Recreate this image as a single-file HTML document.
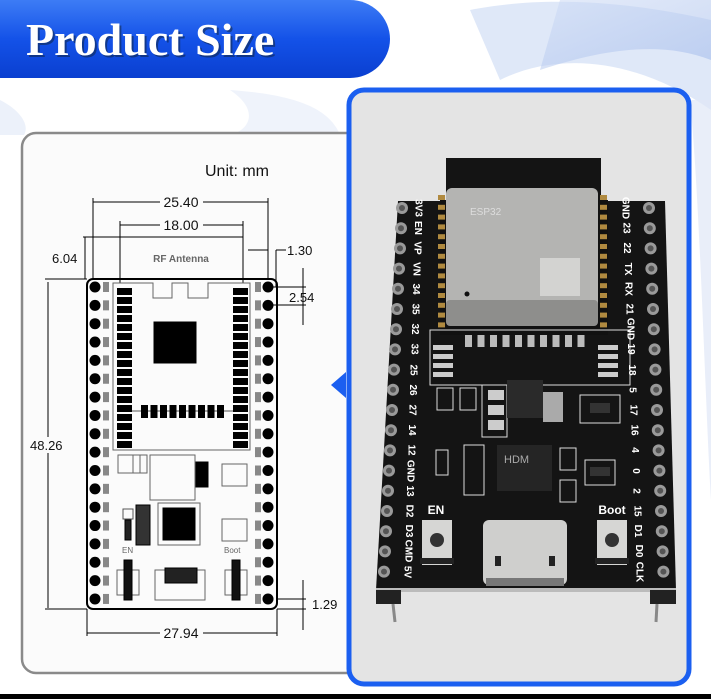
<!DOCTYPE html>
<html><head><meta charset="utf-8"><style>
html,body{margin:0;padding:0;background:#fff;}
svg{display:block;}
text{font-family:"Liberation Sans",sans-serif;}
</style></head><body>
<svg id="s" width="711" height="699" viewBox="0 0 711 699" xmlns="http://www.w3.org/2000/svg">
<defs>
<linearGradient id="bn" x1="0" y1="0" x2="0" y2="1">
<stop offset="0" stop-color="#3d7cf5"/><stop offset="0.5" stop-color="#1452e8"/><stop offset="1" stop-color="#0a3fd0"/>
</linearGradient>
<linearGradient id="wv" x1="0" y1="0" x2="1" y2="1">
<stop offset="0" stop-color="#cfdcf5"/><stop offset="1" stop-color="#9fb8ea"/>
</linearGradient>
</defs>
<rect width="711" height="699" fill="#fff"/>
<!-- background waves -->
<path d="M470 10 C520 0 600 -5 711 20 L711 110 C640 60 560 50 500 80 Z" fill="#d7e2f6" opacity="0.8"/>
<path d="M560 0 L711 0 L711 60 C660 40 600 50 540 70 Z" fill="url(#wv)" opacity="0.55"/>
<path d="M230 90 C260 110 250 130 230 135 L340 135 C330 110 300 95 230 90Z" fill="#dbe5f7" opacity="0.45"/>
<path d="M0 100 C20 110 30 125 24 135 L0 135Z" fill="#d5e0f5" opacity="0.45"/>
<path d="M690 100 C700 200 705 400 711 500 L711 100Z" fill="#dfe7f7" opacity="0.7"/>
<!-- banner -->
<path d="M0 0 H350 A40 39 0 0 1 350 78 H0 Z" fill="url(#bn)"/>
<text x="28" y="57" font-weight="bold" font-size="46" fill="#123" opacity="0.5" style="font-family:'Liberation Serif',serif">Product Size</text>
<text x="26" y="55" font-weight="bold" font-size="46" fill="#fff" style="font-family:'Liberation Serif',serif">Product Size</text>
<!-- left panel -->
<rect x="22" y="133" width="340" height="540" rx="14" fill="#fbfbfb" stroke="#8a8a8a" stroke-width="2.5"/>
<g id="draw" stroke="#000" fill="none" stroke-width="1">
<text x="205" y="176" font-size="16" fill="#111" stroke="none">Unit: mm</text>
<line x1="93" y1="202" x2="160" y2="202"/><line x1="203" y1="202" x2="268" y2="202"/>
<text x="181" y="207" font-size="14" fill="#111" stroke="none" text-anchor="middle">25.40</text>
<line x1="93" y1="198" x2="93" y2="280"/><line x1="268" y1="198" x2="268" y2="280"/>
<line x1="120" y1="225" x2="160" y2="225"/><line x1="203" y1="225" x2="243" y2="225"/>
<text x="181" y="230" font-size="14" fill="#111" stroke="none" text-anchor="middle">18.00</text>
<line x1="120" y1="221" x2="120" y2="283"/><line x1="243" y1="221" x2="243" y2="283"/>
<line x1="83" y1="237" x2="243" y2="237"/>
<text x="181" y="262" font-size="10" fill="#666" stroke="none" text-anchor="middle" font-weight="bold" style="font-family:'Liberation Sans Narrow','Liberation Sans',sans-serif">RF Antenna</text>
<line x1="85" y1="237" x2="85" y2="279"/>
<text x="52" y="263" font-size="13" fill="#111" stroke="none">6.04</text>
<line x1="248" y1="250" x2="268" y2="250"/><line x1="276" y1="250" x2="286" y2="250"/>
<line x1="276" y1="250" x2="276" y2="287"/>
<text x="287" y="255" font-size="13" fill="#111" stroke="none">1.30</text>
<line x1="303" y1="268" x2="303" y2="325"/>
<line x1="272" y1="287" x2="306" y2="287"/><line x1="272" y1="305" x2="306" y2="305"/>
<text x="289" y="302" font-size="13" fill="#111" stroke="none">2.54</text>
<line x1="48" y1="282" x2="48" y2="608"/><line x1="45" y1="279" x2="87" y2="279"/>
<line x1="45" y1="609" x2="87" y2="609"/>
<rect x="28" y="437" width="40" height="16" fill="#fbfbfb" stroke="none"/>
<text x="30" y="450" font-size="13" fill="#111" stroke="none">48.26</text>
<line x1="303" y1="580" x2="303" y2="630"/>
<line x1="277" y1="599" x2="306" y2="599"/><line x1="277" y1="609" x2="306" y2="609"/>
<text x="312" y="609" font-size="13" fill="#111" stroke="none">1.29</text>
<line x1="87" y1="609" x2="87" y2="636"/><line x1="277" y1="609" x2="277" y2="636"/>
<line x1="87" y1="633" x2="160" y2="633"/><line x1="203" y1="633" x2="277" y2="633"/>
<text x="181" y="638" font-size="14" fill="#111" stroke="none" text-anchor="middle">27.94</text>
<rect x="87" y="279" width="190" height="330" rx="6" stroke-width="2"/>
<path d="M113 450 V283 H153 V298 H172 V283 H188 V298 H208 V283 H250 V450 Z" stroke="#666"/>
<rect x="154" y="322" width="42" height="41" fill="#000"/>
<line x1="131" y1="411" x2="233" y2="411" stroke="#555"/>
<rect x="118" y="455" width="22" height="18" stroke="#666"/><rect x="133" y="455" width="14" height="18" stroke="#666"/>
<rect x="150" y="455" width="45" height="45" stroke="#666"/>
<rect x="196" y="462" width="12" height="25" fill="#000"/>
<rect x="222" y="464" width="25" height="22" stroke="#666"/>
<rect x="222" y="519" width="25" height="22" stroke="#666"/>
<rect x="163" y="508" width="32" height="32" fill="#000"/>
<rect x="158" y="503" width="42" height="42" stroke="#666"/>
<rect x="123" y="509" width="10" height="10" stroke="#555"/>
<rect x="125" y="520" width="6" height="20" fill="#222"/>
<rect x="136" y="505" width="14" height="40" fill="#333"/>
<rect x="117" y="570" width="22" height="25" stroke="#666"/>
<rect x="225" y="570" width="22" height="25" stroke="#666"/>
<rect x="124" y="560" width="8" height="40" fill="#111"/>
<rect x="232" y="560" width="8" height="40" fill="#111"/>
<rect x="155" y="570" width="50" height="30" stroke="#666"/>
<rect x="165" y="568" width="32" height="15" fill="#222"/>
<text x="122" y="553" font-size="8" fill="#666" stroke="none">EN</text>
<text x="224" y="553" font-size="8" fill="#666" stroke="none">Boot</text>
</g>
<g id="pins"></g>
<!-- right panel -->
<path d="M346 372 L331 385 L346 398 Z" fill="#1b5ff0"/>
<rect x="349" y="90" width="340" height="594" rx="15" fill="#e4e4e4" stroke="#1b5ff0" stroke-width="5"/>
<polygon points="398,201 665,201 676,590 376,590" fill="#141414"/>
<rect x="376" y="588" width="300" height="4" fill="#bbb"/>
<rect x="376" y="590" width="25" height="14" fill="#222"/><rect x="650" y="590" width="26" height="14" fill="#222"/>
<line x1="393" y1="604" x2="395" y2="622" stroke="#888" stroke-width="3"/>
<line x1="657" y1="604" x2="656" y2="622" stroke="#888" stroke-width="3"/>
<rect x="446" y="158" width="155" height="45" fill="#141414"/>
<rect x="440" y="200" width="168" height="135" fill="#111"/>
<rect x="446" y="188" width="152" height="138" rx="6" fill="#b4b4b2"/>
<rect x="446" y="300" width="152" height="26" rx="4" fill="#8e8e8c"/>
<rect x="540" y="258" width="40" height="38" fill="#d3d3d1"/>
<circle cx="467" cy="294" r="2.5" fill="#111"/>
<text x="470" y="215" font-size="10" fill="#ddd">ESP32</text>
<g id="cast"></g>
<rect x="430" y="330" width="200" height="55" fill="none" stroke="#ddd" stroke-width="1"/>
<rect x="437" y="388" width="16" height="22" fill="none" stroke="#ddd"/>
<rect x="460" y="388" width="16" height="22" fill="none" stroke="#ddd"/>
<rect x="482" y="385" width="25" height="52" fill="none" stroke="#ddd"/>
<rect x="488" y="390" width="16" height="10" fill="#ccc"/><rect x="488" y="405" width="16" height="10" fill="#ccc"/><rect x="488" y="420" width="16" height="10" fill="#ccc"/>
<rect x="507" y="380" width="36" height="38" fill="#2a2a2a"/>
<rect x="543" y="392" width="20" height="30" fill="#aaa"/>
<rect x="580" y="395" width="40" height="28" fill="none" stroke="#ddd"/>
<rect x="590" y="403" width="20" height="10" fill="#333"/>
<rect x="585" y="460" width="30" height="25" fill="none" stroke="#ddd"/>
<rect x="590" y="467" width="20" height="9" fill="#333"/>
<rect x="497" y="445" width="55" height="46" fill="#252525"/>
<text x="504" y="463" font-size="11" fill="#aaa">HDM</text>
<rect x="436" y="450" width="12" height="25" fill="none" stroke="#ddd"/>
<rect x="464" y="445" width="20" height="50" fill="none" stroke="#ddd"/>
<rect x="560" y="448" width="16" height="22" fill="none" stroke="#ddd"/>
<rect x="560" y="480" width="16" height="22" fill="none" stroke="#ddd"/>
<text x="436" y="514" font-size="12" fill="#fff" font-weight="bold" text-anchor="middle">EN</text>
<text x="612" y="514" font-size="12" fill="#fff" font-weight="bold" text-anchor="middle">Boot</text>
<rect x="422" y="520" width="30" height="45" fill="#d6d6d4"/><circle cx="437" cy="540" r="7" fill="#333"/>
<rect x="420" y="558" width="34" height="6" fill="#222"/>
<rect x="597" y="520" width="30" height="45" fill="#d6d6d4"/><circle cx="612" cy="540" r="7" fill="#333"/>
<rect x="595" y="558" width="34" height="6" fill="#222"/>
<rect x="483" y="520" width="84" height="65" rx="6" fill="#cfcfcd"/>
<rect x="495" y="556" width="6" height="10" fill="#222"/><rect x="549" y="556" width="6" height="10" fill="#222"/>
<rect x="486" y="578" width="78" height="8" fill="#777"/>
<g font-size="10" font-weight="bold" fill="#fff" text-anchor="middle" dominant-baseline="central">
<text transform="translate(418,208) rotate(90)">3V3</text>
<text transform="translate(417.4,228) rotate(90)">EN</text>
<text transform="translate(416.8,248) rotate(90)">VP</text>
<text transform="translate(416.2,269) rotate(90)">VN</text>
<text transform="translate(415.6,289) rotate(90)">34</text>
<text transform="translate(415,309) rotate(90)">35</text>
<text transform="translate(414.4,329) rotate(90)">32</text>
<text transform="translate(413.8,349) rotate(90)">33</text>
<text transform="translate(413.2,370) rotate(90)">25</text>
<text transform="translate(412.6,390) rotate(90)">26</text>
<text transform="translate(412,410) rotate(90)">27</text>
<text transform="translate(411.4,430) rotate(90)">14</text>
<text transform="translate(410.8,450) rotate(90)">12</text>
<text transform="translate(410.2,471) rotate(90)">GND</text>
<text transform="translate(409.6,491) rotate(90)">13</text>
<text transform="translate(409,511) rotate(90)">D2</text>
<text transform="translate(408.4,531) rotate(90)">D3</text>
<text transform="translate(407.8,551) rotate(90)">CMD</text>
<text transform="translate(407.2,572) rotate(90)">5V</text>
<text transform="translate(625,208) rotate(90)">GND</text>
<text transform="translate(626,228) rotate(90)">23</text>
<text transform="translate(626.6,248) rotate(90)">22</text>
<text transform="translate(627.4,269) rotate(90)">TX</text>
<text transform="translate(628,289) rotate(90)">RX</text>
<text transform="translate(629,309) rotate(90)">21</text>
<text transform="translate(630,329) rotate(90)">GND</text>
<text transform="translate(630.6,349) rotate(90)">19</text>
<text transform="translate(631.4,370) rotate(90)">18</text>
<text transform="translate(632,390) rotate(90)">5</text>
<text transform="translate(633,410) rotate(90)">17</text>
<text transform="translate(634,430) rotate(90)">16</text>
<text transform="translate(634.6,450) rotate(90)">4</text>
<text transform="translate(635.4,471) rotate(90)">0</text>
<text transform="translate(636,491) rotate(90)">2</text>
<text transform="translate(637,511) rotate(90)">15</text>
<text transform="translate(637.6,531) rotate(90)">D1</text>
<text transform="translate(638.4,551) rotate(90)">D0</text>
<text transform="translate(639,572) rotate(90)">CLK</text>
</g>
<g id="rp"></g>
<rect x="0" y="694" width="711" height="5" fill="#000"/>
</svg>
<script>
var NS="http://www.w3.org/2000/svg";
function el(p,t,a){var e=document.createElementNS(NS,t);for(var k in a)e.setAttribute(k,a[k]);document.getElementById(p).appendChild(e);}
for(var i=0;i<18;i++){var y=287+i*18.35;
 el("pins","circle",{cx:95,cy:y,r:5.5,fill:"#000"});
 el("pins","circle",{cx:268,cy:y,r:5.5,fill:"#000"});
 el("pins","rect",{x:103,y:y-5,width:6,height:10,fill:"#888"});
 el("pins","rect",{x:255,y:y-5,width:6,height:10,fill:"#888"});}
for(var i=0;i<18;i++){var y=288+i*9;
 el("pins","rect",{x:117,y:y,width:15,height:7,fill:"#000"});
 el("pins","rect",{x:233,y:y,width:15,height:7,fill:"#000"});}
for(var i=0;i<9;i++){el("pins","rect",{x:141+i*9.5,y:405,width:7,height:13,fill:"#000"});}
for(var i=0;i<19;i++){var y=208+i*20.2;
 el("rp","circle",{cx:402-i*1,cy:y,r:6,fill:"#9a9a9a"});
 el("rp","circle",{cx:402-i*1,cy:y,r:3,fill:"#555"});
 el("rp","circle",{cx:649+i*0.8,cy:y,r:6,fill:"#9a9a9a"});
 el("rp","circle",{cx:649+i*0.8,cy:y,r:3,fill:"#555"});}
for(var i=0;i<14;i++){var y=195+i*9.8;
 el("cast","rect",{x:438,y:y,width:7,height:5,fill:"#b08a40"});
 el("cast","rect",{x:600,y:y,width:7,height:5,fill:"#b08a40"});}
for(var i=0;i<10;i++){el("cast","rect",{x:465+i*12.5,y:335,width:7,height:12,fill:"#bbb"});}
for(var i=0;i<4;i++){el("cast","rect",{x:433,y:345+i*9,width:20,height:5,fill:"#ccc"});el("cast","rect",{x:598,y:345+i*9,width:20,height:5,fill:"#ccc"});}
</script>
</body></html>
